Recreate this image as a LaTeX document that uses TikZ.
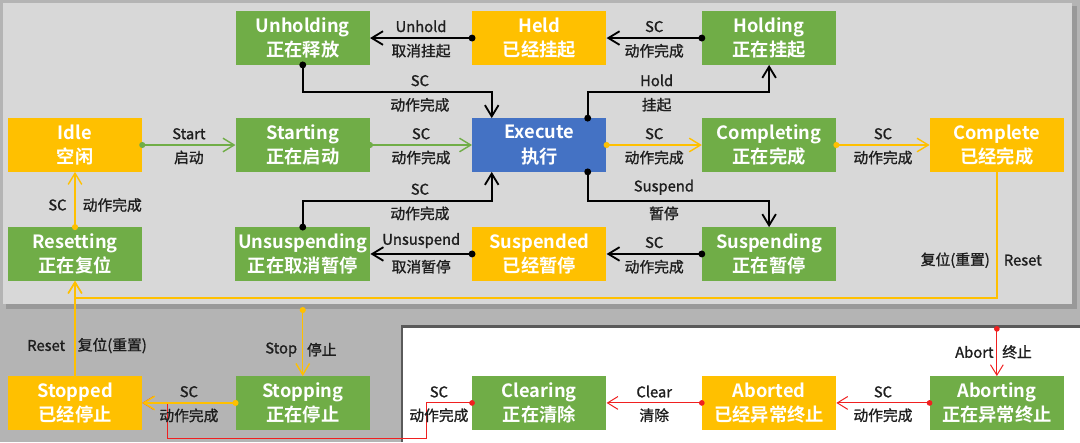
\documentclass[tikz,border=0pt]{standalone}
\usepackage{fontspec}
\setmainfont{Noto Sans CJK SC}[BoldFont={Noto Sans CJK SC Bold}]
\newfontfamily\lblfont{Noto Sans CJK SC}[FakeBold=1.2]
\usetikzlibrary{arrows.meta, positioning}
\definecolor{plcgreen}{HTML}{70AD47}
\definecolor{plcyellow}{HTML}{FFC000}
\definecolor{plcblue}{HTML}{4472C4}
\definecolor{plcred}{HTML}{F02020}
\definecolor{labelgray}{HTML}{1E1E1E}
\definecolor{outergray}{HTML}{B4B4B4}
\definecolor{panelgray}{HTML}{D8D8D8}
\definecolor{shadowgray}{HTML}{999999}
\definecolor{bordergray}{HTML}{5A5A5A}
\tikzset{
  box/.style={
    rectangle,
    align=center,
    text=white,
    font=\fontsize{13}{17.5}\selectfont\bfseries,
    minimum width=3.35cm,
    minimum height=1.33cm,
    inner sep=2pt,
    execute at begin node={\rule{0pt}{15pt}}
  },
  acting/.style={box, fill=plcgreen},
  waiting/.style={box, fill=plcyellow},
  running/.style={box, fill=plcblue},
  lbl/.style={
    font=\fontsize{10.5}{12}\selectfont\lblfont,
    text=labelgray,
    inner sep=1.5pt
  },
  blackarrow/.style={
    {Circle[length=1.7mm]}-{Straight Barb[length=2.8mm,width=3.4mm]},
    line width=1.3pt,
    shorten <=-0.85mm
  },
  greenarrow/.style={
    {Circle[length=1.5mm]}-{Straight Barb[length=2.8mm,width=3.4mm]},
    draw=plcgreen,
    line width=1pt,
    shorten <=-0.75mm
  },
  yellowarrow/.style={
    {Circle[length=1.5mm]}-{Straight Barb[length=2.8mm,width=3.4mm]},
    draw=plcyellow,
    line width=1pt,
    shorten <=-0.75mm
  },
  yellowplain/.style={
    -{Straight Barb[length=2.8mm,width=3.4mm]},
    draw=plcyellow,
    line width=1pt
  },
  redarrow/.style={
    {Circle[length=1.4mm]}-{Straight Barb[length=2.6mm,width=3.2mm]},
    draw=plcred,
    line width=0.7pt,
    shorten <=-0.7mm
  }
}
\begin{document}
\begin{tikzpicture}[node distance=1.33cm and 2.33cm]
    \useasboundingbox (0,0) rectangle (27,-11.05);
    % panels
    \fill[outergray] (0,0) rectangle (27,-11.05);
    \fill[shadowgray] (0.15,-0.15) rectangle (26.92,-7.72);
    \fill[panelgray] (0.075,-0.075) rectangle (26.8,-7.6);
    \fill[white] (10.08,-8.2) rectangle (27,-11.05);
    \draw[bordergray, line width=2pt] (10.05,-11.05) -- (10.05,-8.17) -- (27,-8.17);

    % states
    \node[waiting] (idle) at (1.875,-3.625) {Idle\\空闲};
    \node[acting, right=of idle] (starting) {Starting\\正在启动};
    \node[running, right=2.55cm of starting] (execute) {Execute\\执行};
    \node[acting, right=2.38cm of execute] (completing) {Completing\\正在完成};
    \node[waiting, right=of completing] (complete) {Complete\\已经完成};
    \node[acting, above=of starting] (unholding) {Unholding\\正在释放};
    \node[waiting, above=of execute] (held) {Held\\已经挂起};
    \node[acting, above=of completing] (holding) {Holding\\正在挂起};
    \node[acting, below=1.38cm of idle] (resetting) {Resetting\\正在复位};
    \node[acting, below=1.38cm of starting] (unsuspending) {Unsuspending\\正在取消暂停};
    \node[waiting, below=1.38cm of execute] (suspended) {Suspended\\已经暂停};
    \node[acting, below=1.38cm of completing] (suspending) {Suspending\\正在暂停};
    \node[waiting, below=2.38cm of resetting] (stopped) {Stopped\\已经停止};
    \node[acting, below=2.38cm of unsuspending] (stopping) {Stopping\\正在停止};
    \node[acting, below=2.38cm of suspended] (clearing) {Clearing\\正在清除};
    \node[waiting, below=2.38cm of suspending] (aborted) {Aborted\\已经异常终止};
    \node[acting, right=of aborted] (aborting) {Aborting\\正在异常终止};

    \coordinate[below=0.43cm of resetting] (resetjoin);
    \coordinate[above=1.65cm of stopping] (stoptap);
    \coordinate[above=1.18cm of aborting] (aborttap);

    % hold / suspend loops
    \draw[blackarrow] (holding) -- node[lbl,above=2pt]{SC} node[lbl,below=2pt]{动作完成} (held);
    \draw[blackarrow] (held) -- node[lbl,above=2pt]{Unhold} node[lbl,below=2pt]{取消挂起} (unholding);
    \draw[blackarrow] (unholding.south) -- ++(0,-0.68) -| node[lbl,pos=0.31,above=2pt]{SC} node[lbl,pos=0.31,below=2pt]{动作完成} ([xshift=-1.19cm]execute.north);
    \draw[blackarrow] ([xshift=1.21cm]execute.north) -- ++(0,0.65) -| node[lbl,pos=0.19,above=2pt]{Hold} node[lbl,pos=0.19,below=2pt]{挂起} (holding.south);
    \draw[blackarrow] ([xshift=1.21cm]execute.south) -- ++(0,-0.72) -| node[lbl,pos=0.21,above=2pt]{Suspend} node[lbl,pos=0.21,below=2pt]{暂停} (suspending.north);
    \draw[blackarrow] (suspending) -- node[lbl,above=2pt]{SC} node[lbl,below=2pt]{动作完成} (suspended);
    \draw[blackarrow] (suspended) -- node[lbl,above=2pt]{Unsuspend} node[lbl,below=2pt]{取消暂停} (unsuspending);
    \draw[blackarrow] (unsuspending.north) -- ++(0,0.66) -| node[lbl,pos=0.31,above=2pt]{SC} node[lbl,pos=0.31,below=2pt]{动作完成} ([xshift=-1.19cm]execute.south);

    % main line
    \draw[greenarrow] (idle) -- node[lbl,above=2pt]{Start} node[lbl,below=2pt]{启动} (starting);
    \draw[greenarrow] (starting) -- node[lbl,above=2pt]{SC} node[lbl,below=2pt]{动作完成} (execute);
    \draw[yellowarrow] (execute) -- node[lbl,above=2pt]{SC} node[lbl,below=2pt]{动作完成} (completing);
    \draw[yellowarrow] (completing) -- node[lbl,above=2pt]{SC} node[lbl,below=2pt]{动作完成} (complete);
    \draw[yellowplain] (complete.south) |- node[lbl,pos=0.35,left=3pt]{复位(重置)} node[lbl,pos=0.35,right=3pt]{Reset} (resetjoin) -- (resetting.south);
    \draw[yellowarrow] (resetting) -- node[lbl,pos=0.4,left=4pt]{SC} node[lbl,pos=0.4,right=3.5pt]{动作完成} (idle);

    % abort / clear
    \draw[redarrow] (aborttap) -- node[lbl,pos=0.49,left=0.5pt]{Abort} node[lbl,pos=0.49,right=2pt]{终止} (aborting);
    \draw[redarrow] (aborting) -- node[lbl,above=2pt]{SC} node[lbl,below=2pt]{动作完成} (aborted);
    \draw[redarrow] (aborted) -- node[lbl,above=2pt]{Clear} node[lbl,below=2pt]{清除} (clearing);
    \draw[redarrow] (clearing.west) -- node[lbl,pos=0.72,above=2pt]{SC} node[lbl,pos=0.72,below=2pt]{动作完成} ++(-1.15,0) -- ++(0,-0.88) -| ([xshift=0.63cm]stopped.east) -- (stopped.east);

    % stop / reset
    \draw[yellowarrow] (stoptap) -- node[lbl,pos=0.6,left=2pt]{Stop} node[lbl,pos=0.6,right=1pt]{停止} (stopping);
    \draw[yellowarrow] (stopping) -- node[lbl,above=2pt]{SC} node[lbl,below=2pt]{动作完成} (stopped);
    \draw[yellowplain] (stopped) -- node[lbl,pos=0.32,left=5pt]{Reset} node[lbl,pos=0.32,right=0pt]{复位(重置)} (resetting);
\end{tikzpicture}
\end{document}
